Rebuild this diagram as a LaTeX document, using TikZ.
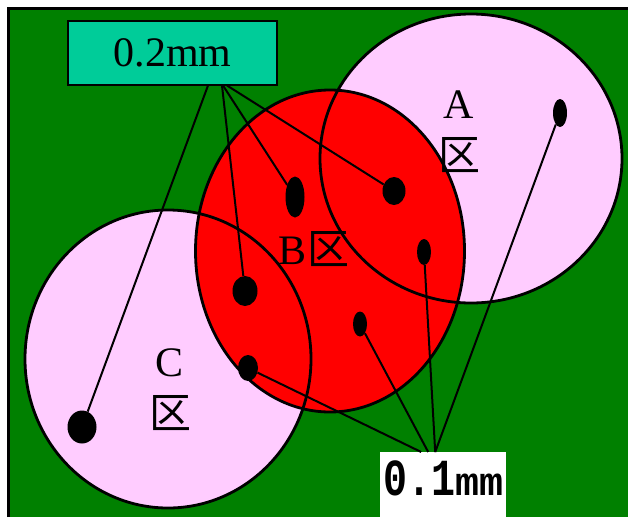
\documentclass[tikz,border=0pt]{standalone}
\usepackage{fontspec}
\setmainfont{Liberation Serif}
\newfontfamily\cjk{Noto Sans CJK SC}
\newfontfamily\tagmono{Liberation Mono}
\usetikzlibrary{positioning, shapes.geometric}
\definecolor{field}{RGB}{0,128,0}
\definecolor{zonepink}{RGB}{255,204,255}
\definecolor{zonered}{RGB}{255,0,0}
\definecolor{tagteal}{RGB}{0,204,153}

\begin{document}
\begin{tikzpicture}[
    x=1pt, y=-1pt,
    zone/.style={line width=2.8pt},
    dot/.style={ellipse, fill=black, inner sep=0pt},
    lead/.style={line width=2pt},
    big/.style={font=\fontsize{42}{52}\selectfont, align=center, inner sep=0pt}
]
    \useasboundingbox (0,0) rectangle (628,517);
    \fill[field] (8.5,8.5) rectangle (628,517);
    \draw[line width=3pt] (8.5,517) |- (628,8.5);

    % zones A, C, B
    \fill[zonepink] (471,158.5) ellipse [x radius=151pt, y radius=144.5pt];
    \fill[zonepink] (168,359) ellipse [x radius=143pt, y radius=149pt];
    \fill[zonered] (330,251) ellipse [x radius=134.5pt, y radius=161pt];
    \draw[zone] (471,158.5) ellipse [x radius=151pt, y radius=144.5pt];
    \draw[zone] (168,359) ellipse [x radius=143pt, y radius=149pt];
    \draw[zone] (330,251) ellipse [x radius=134.5pt, y radius=161pt];

    \node[big] (labA) at (459,132) {A\\{\cjk 区}};
    \node[big] (labB) at (314,249) {B{\cjk 区}};
    \node[big] (labC) at (170,390) {C\\{\cjk 区}};

    \node[big, draw, fill=tagteal, line width=2pt, minimum width=209pt, minimum height=64pt] (t02) at (172.5,52.5) {0.2mm};
    \node[fill=white, anchor=north west, inner sep=0pt, text height=43pt, text depth=22pt, minimum width=126pt,
          font=\tagmono\bfseries\fontsize{40}{48}\selectfont] (t01) at (380,452) {\scalebox{1}[1.3]{0.1}mm};

    % holes
    \node[dot, minimum width=29pt, minimum height=33pt] (dC) at (82,427) {};
    \node[dot, minimum width=25pt, minimum height=30pt] (d2) at (245,291) {};
    \node[dot, minimum width=19pt, minimum height=41pt] (d3) at (295,197) {};
    \node[dot, minimum width=23pt, minimum height=28pt] (d4) at (394,191) {};
    \node[dot, minimum width=14pt, minimum height=26pt] (d5) at (424,252) {};
    \node[dot, minimum width=14pt, minimum height=25pt] (d6) at (360,324) {};
    \node[dot, minimum width=20pt, minimum height=26pt] (d7) at (248,368) {};
    \node[dot, minimum width=14pt, minimum height=28pt] (dA) at (560,113) {};

    \draw[lead] ([xshift=35.5pt]t02.south) -- (dC);
    \draw[lead] ([xshift=49.5pt]t02.south) -- (d2);
    \draw[lead] ([xshift=50.5pt]t02.south) -- (d3);
    \draw[lead] ([xshift=54.5pt]t02.south) -- (d4);
    \draw[lead] (d7) -- ([xshift=-22pt]t01.north);
    \draw[lead] (d6) -- ([xshift=-15pt]t01.north);
    \draw[lead] (d5) -- ([xshift=-8pt]t01.north);
    \draw[lead] (dA) -- ([xshift=-8pt]t01.north);
\end{tikzpicture}
\end{document}
